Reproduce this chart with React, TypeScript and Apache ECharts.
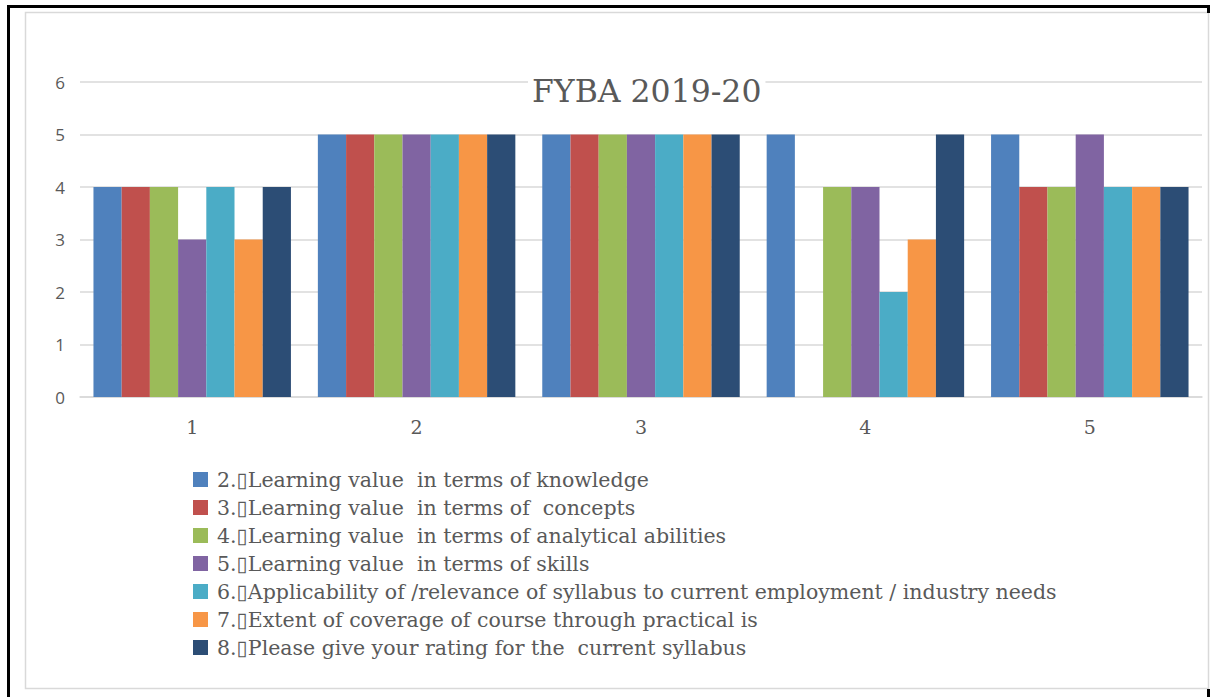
import React, { useEffect, useRef } from "react";
import * as echarts from "echarts";

const categories = ["1", "2", "3", "4", "5"];
const seriesNames = [
  "2.\u25AFLearning value  in terms of knowledge",
  "3.\u25AFLearning value  in terms of  concepts",
  "4.\u25AFLearning value  in terms of analytical abilities",
  "5.\u25AFLearning value  in terms of skills",
  "6.\u25AFApplicability of /relevance of syllabus to current employment / industry needs",
  "7.\u25AFExtent of coverage of course through practical is",
  "8.\u25AFPlease give your rating for the  current syllabus",
];
const s2 = [4, 5, 5, 5, 5];
const s3 = [4, 5, 5, 0, 4];
const s4 = [4, 5, 5, 4, 4];
const s5 = [3, 5, 5, 4, 5];
const s6 = [4, 5, 5, 2, 4];
const s7 = [3, 5, 5, 3, 4];
const s8 = [4, 5, 5, 5, 4];
const seriesValues = [s2, s3, s4, s5, s6, s7, s8];
const colors = ["#4f81bd", "#c0504d", "#9bbb59", "#8064a2", "#4bacc6", "#f79646", "#2c4d75"];
const yTicks = { min: 0, max: 6, interval: 1 };
const titleText = "FYBA 2019-20";

const SERIF = "'DejaVu Serif', serif";

export default function App() {
  const ref = useRef<HTMLDivElement>(null);
  useEffect(() => {
    if (!ref.current) return;
    const chart = echarts.init(ref.current, null, { renderer: "svg" });
    chart.setOption({
      animation: false,
      backgroundColor: "#ffffff",
      color: colors,
      title: {
        text: titleText,
        left: 528,
        top: 73,
        padding: [2, 4],
        backgroundColor: "#ffffff",
        textStyle: { fontFamily: SERIF, fontSize: 31.5, fontWeight: "normal", color: "#595959" },
      },
      grid: { left: 80, right: 9, top: 82, bottom: 300, containLabel: false },
      xAxis: {
        type: "category",
        data: categories,
        axisLine: { lineStyle: { color: "#d9d9d9", width: 1.5 } },
        axisTick: { show: false },
        axisLabel: { margin: 20, fontFamily: SERIF, fontSize: 19, color: "#595959" },
      },
      yAxis: {
        type: "value",
        min: yTicks.min,
        max: yTicks.max,
        interval: yTicks.interval,
        axisLine: { show: false },
        axisTick: { show: false },
        splitLine: { lineStyle: { color: "#d9d9d9", width: 1.5 } },
        axisLabel: { margin: 15, fontFamily: "'Open Sans', sans-serif", fontSize: 17, color: "#595959" },
      },
      legend: {
        orient: "vertical",
        left: 188,
        top: 464,
        itemWidth: 15,
        itemHeight: 15,
        itemGap: 7,
        icon: "rect",
        selectedMode: false,
        textStyle: { fontFamily: SERIF, fontSize: 20.5, color: "#595959", padding: [0, 0, 0, 4] },
        data: seriesNames,
      },
      series: seriesNames.map((name, i) => ({
        name,
        type: "bar",
        data: seriesValues[i],
        barGap: "0%",
        barCategoryGap: "12%",
      })),
      graphic: [
        { type: "rect", silent: true, shape: { x: 25.5, y: 12.5, width: 1183, height: 676 }, style: { fill: "none", stroke: "#d9d9d9", lineWidth: 1.5 } },
        { type: "rect", silent: true, shape: { x: 7, y: 5, width: 1203, height: 3 }, style: { fill: "#000000" } },
        { type: "rect", silent: true, shape: { x: 7, y: 5, width: 3, height: 692 }, style: { fill: "#000000" } },
        { type: "rect", silent: true, shape: { x: 1207, y: 5, width: 3, height: 8 }, style: { fill: "#000000" } },
        { type: "rect", silent: true, shape: { x: 1207, y: 689, width: 3, height: 8 }, style: { fill: "#000000" } },
      ],
    });
    return () => chart.dispose();
  }, []);
  return (
    <div
      ref={ref}
      style={{ position: "absolute", left: 0, top: 0, width: 1211, height: 697, background: "#fff" }}
    />
  );
}
